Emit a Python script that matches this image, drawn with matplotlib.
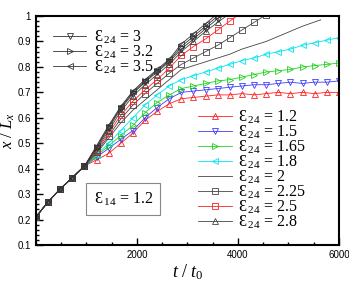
import numpy as np
import matplotlib
matplotlib.use("Agg")
import matplotlib.pyplot as plt
from matplotlib.ticker import MultipleLocator, FixedLocator

plt.rcParams['font.family'] = ['Liberation Serif', 'DejaVu Serif']
plt.rcParams['mathtext.fontset'] = 'custom'
plt.rcParams['mathtext.rm'] = 'Liberation Serif'
plt.rcParams['mathtext.it'] = 'Liberation Serif:italic'
plt.rcParams['mathtext.default'] = 'regular'

# time grid (t / t0)
t_grid = [0, 240, 480, 720, 960, 1200, 1440, 1680, 1920, 2160, 2400, 2640, 2880,
          3120, 3360, 3600, 3840, 4080, 4320, 4560, 4800, 5040, 5280, 5520, 5760, 6000]
common = [0.21, 0.27, 0.32, 0.365, 0.41]

y_12 = common + [0.435, 0.46, 0.50, 0.54, 0.59, 0.625, 0.655, 0.675, 0.68, 0.685, 0.69, 0.69,
                 0.695, 0.69, 0.695, 0.70, 0.695, 0.70, 0.695, 0.70, 0.70]
y_15 = common + [0.445, 0.48, 0.515, 0.55, 0.60, 0.64, 0.675, 0.70, 0.705, 0.71, 0.715, 0.72,
                 0.725, 0.73, 0.73, 0.735, 0.74, 0.735, 0.74, 0.74, 0.745]
y_165 = common + [0.45, 0.49, 0.53, 0.57, 0.62, 0.66, 0.69, 0.715, 0.725, 0.735, 0.745, 0.75,
                  0.76, 0.77, 0.78, 0.785, 0.79, 0.80, 0.805, 0.81, 0.815]
y_18 = common + [0.455, 0.50, 0.55, 0.60, 0.65, 0.69, 0.725, 0.75, 0.765, 0.78, 0.795, 0.81,
                 0.825, 0.835, 0.85, 0.86, 0.87, 0.885, 0.895, 0.905, 0.915]
y_2 = common + [0.46, 0.52, 0.58, 0.63, 0.67, 0.71, 0.75, 0.79, 0.805, 0.82, 0.835, 0.85,
                0.87, 0.885, 0.90, 0.92, 0.94, 0.96, 0.985]
y_225 = common + [0.465, 0.53, 0.595, 0.65, 0.695, 0.735, 0.775, 0.81, 0.835, 0.86, 0.885, 0.915,
                  0.945, 0.975, 1.005]
y_25 = common + [0.47, 0.54, 0.61, 0.665, 0.71, 0.75, 0.795, 0.845, 0.88, 0.91, 0.945, 0.98, 1.015]
y_28 = common + [0.475, 0.55, 0.625, 0.685, 0.73, 0.77, 0.81, 0.86, 0.9, 0.94, 0.975, 1.01]
y_3 = common + [0.48, 0.56, 0.635, 0.695, 0.74, 0.78, 0.82, 0.87, 0.91, 0.95, 0.99, 1.03]
y_32 = common + [0.485, 0.565, 0.64, 0.70, 0.745, 0.785, 0.825, 0.88, 0.92, 0.96, 1.0, 1.04]
y_35 = common + [0.49, 0.57, 0.645, 0.705, 0.75, 0.79, 0.83, 0.89, 0.93, 0.97, 1.01, 1.05]

eps24_labels = ['1.2', '1.5', '1.65', '1.8', '2', '2.25', '2.5', '2.8', '3', '3.2', '3.5']
series = [y_12, y_15, y_165, y_18, y_2, y_225, y_25, y_28, y_3, y_32, y_35]
colors = ['#ff2020', '#3c3cff', '#1ed21e', '#00e6f0', '#444444', '#444444', '#ff2020',
          '#444444', '#333333', '#333333', '#333333']
markers = ['^', 'v', '>', '<', None, 's', 's', '^', 'v', '>', '<']

fig = plt.figure(figsize=(3.49, 2.81), dpi=100)
ax = fig.add_axes([0.103, 0.128, 0.868, 0.815])

FS_LEG = 11.5
handles = {}
for lab, ys, c, m in zip(eps24_labels, series, colors, markers):
    tt = t_grid[:len(ys)]
    if lab == '2':
        tt = t_grid[:len(ys) - 1] + [5640]
    h, = ax.plot(tt, ys, color=c, lw=0.6, marker=m, markersize=4.5,
                 fillstyle='none', markeredgewidth=0.6,
                 label=r'$Ɛ_{\,24}$ = ' + lab)
    handles[lab] = h

ax.set_xlim(0, 6000)
ax.set_ylim(0.1, 1.0)
ax.xaxis.set_major_locator(FixedLocator([2000, 4000, 6000]))
ax.xaxis.set_minor_locator(MultipleLocator(500))
ax.yaxis.set_minor_locator(MultipleLocator(0.02))
ax.set_yticks([0.1, 0.2, 0.3, 0.4, 0.5, 0.6, 0.7, 0.8, 0.9, 1.0])
ax.set_yticklabels(['0.1', '0.2', '0.3', '0.4', '0.5', '0.6', '0.7', '0.8', '0.9', '1'])
ax.tick_params(which='both', direction='in', top=False, right=False,
               labelsize=7, width=1.0)
ax.tick_params(which='major', length=5)
ax.tick_params(which='minor', length=2.5)
for lbl in ax.get_xticklabels() + ax.get_yticklabels():
    lbl.set_family(['Liberation Sans', 'DejaVu Sans'])
for s in ax.spines.values():
    s.set_linewidth(1.5)

ax.set_xlabel(r'$\mathit{t}\ /\ \mathit{t}_{\mathit{0}}$', fontsize=13, labelpad=2)
ax.set_ylabel(r'$\mathit{x}\ /\ \mathit{L}_{\mathit{x}}$', fontsize=12, va='center')
ax.yaxis.set_label_coords(-0.09, 0.5)

keys1 = ['3', '3.2', '3.5']
leg1 = ax.legend([handles[k] for k in keys1], [handles[k].get_label() for k in keys1],
                 loc='upper left', bbox_to_anchor=(0.056, 0.945), frameon=False,
                 fontsize=FS_LEG, numpoints=1, handlelength=2.1, handletextpad=0.45,
                 labelspacing=-0.15, borderpad=0.0, borderaxespad=0.0)
ax.add_artist(leg1)
keys2 = ['1.2', '1.5', '1.65', '1.8', '2', '2.25', '2.5', '2.8']
ax.legend([handles[k] for k in keys2], [handles[k].get_label() for k in keys2],
          loc='upper left', bbox_to_anchor=(0.535, 0.595), frameon=False,
          fontsize=FS_LEG, numpoints=1, handlelength=2.1, handletextpad=0.4,
          labelspacing=-0.15, borderpad=0.0, borderaxespad=0.0)

ax.text(0.19, 0.20, r'$Ɛ_{\,14}$ = 1.2', transform=ax.transAxes, fontsize=11.5,
        ha='left', va='center',
        bbox=dict(boxstyle='square,pad=0.45', fc='white', ec='#888888', lw=0.8))

fig.savefig('out.png', dpi=100)
